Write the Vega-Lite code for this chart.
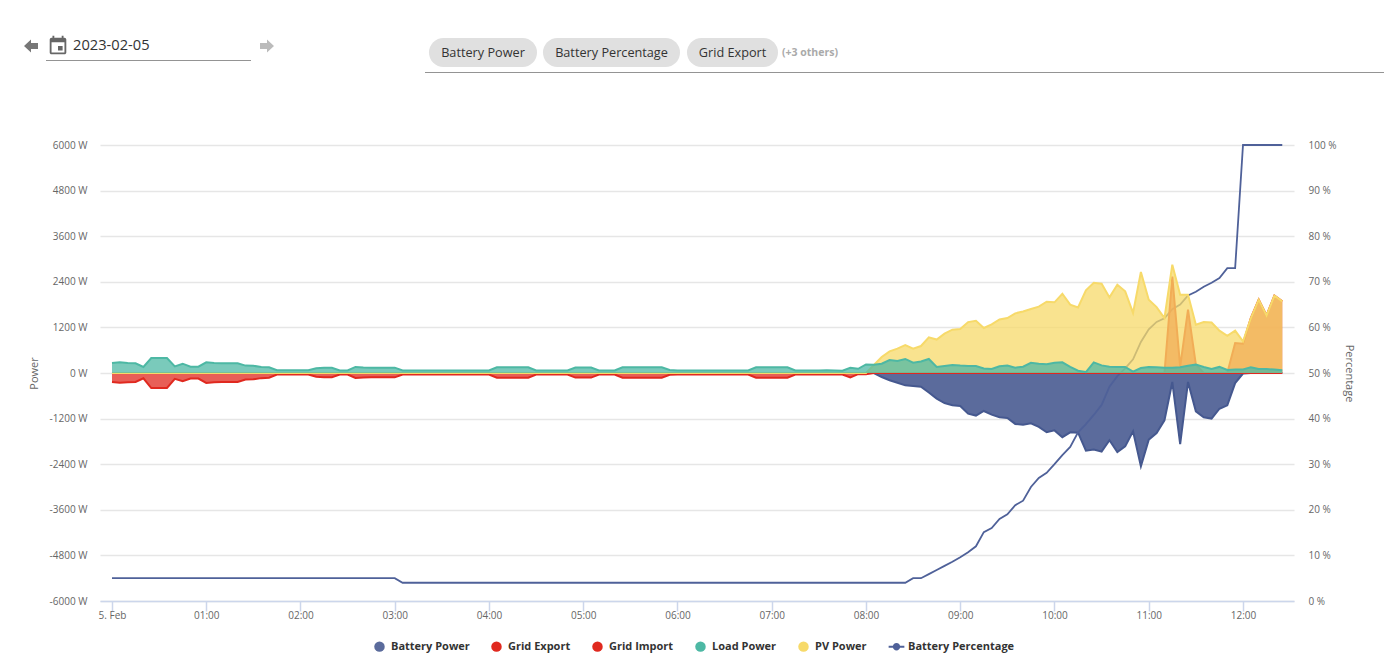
{
  "$schema": "https://vega.github.io/schema/vega-lite/v6.json",
  "width": 1194,
  "height": 456,
  "autosize": "none",
  "padding": {"left": 100, "top": 145, "right": 90, "bottom": 71},
  "background": "white",
  "config": {
    "font": "Open Sans",
    "view": {"stroke": null},
    "axis": {"labelColor": "#666666", "labelFontSize": 10, "titleColor": "#666666", "titleFontSize": 11, "titleFontWeight": "normal"}
  },
  "datasets": {
    "energy": [
      {"time":"2023-02-05T00:00","Battery Power":0,"Grid Export":0,"Grid Import":-235,"Load Power":260,"PV Power":0,"Battery Percentage":5},
      {"time":"2023-02-05T00:05","Battery Power":0,"Grid Export":0,"Grid Import":-255,"Load Power":280,"PV Power":0,"Battery Percentage":5},
      {"time":"2023-02-05T00:10","Battery Power":0,"Grid Export":0,"Grid Import":-245,"Load Power":265,"PV Power":0,"Battery Percentage":5},
      {"time":"2023-02-05T00:15","Battery Power":0,"Grid Export":0,"Grid Import":-235,"Load Power":255,"PV Power":0,"Battery Percentage":5},
      {"time":"2023-02-05T00:20","Battery Power":0,"Grid Export":0,"Grid Import":-140,"Load Power":160,"PV Power":0,"Battery Percentage":5},
      {"time":"2023-02-05T00:25","Battery Power":0,"Grid Export":0,"Grid Import":-395,"Load Power":395,"PV Power":0,"Battery Percentage":5},
      {"time":"2023-02-05T00:30","Battery Power":0,"Grid Export":0,"Grid Import":-395,"Load Power":395,"PV Power":0,"Battery Percentage":5},
      {"time":"2023-02-05T00:35","Battery Power":0,"Grid Export":0,"Grid Import":-395,"Load Power":395,"PV Power":0,"Battery Percentage":5},
      {"time":"2023-02-05T00:40","Battery Power":0,"Grid Export":0,"Grid Import":-155,"Load Power":175,"PV Power":0,"Battery Percentage":5},
      {"time":"2023-02-05T00:45","Battery Power":0,"Grid Export":0,"Grid Import":-215,"Load Power":245,"PV Power":0,"Battery Percentage":5},
      {"time":"2023-02-05T00:50","Battery Power":0,"Grid Export":0,"Grid Import":-145,"Load Power":165,"PV Power":0,"Battery Percentage":5},
      {"time":"2023-02-05T00:55","Battery Power":0,"Grid Export":0,"Grid Import":-145,"Load Power":165,"PV Power":0,"Battery Percentage":5},
      {"time":"2023-02-05T01:00","Battery Power":0,"Grid Export":0,"Grid Import":-260,"Load Power":280,"PV Power":0,"Battery Percentage":5},
      {"time":"2023-02-05T01:05","Battery Power":0,"Grid Export":0,"Grid Import":-245,"Load Power":265,"PV Power":0,"Battery Percentage":5},
      {"time":"2023-02-05T01:10","Battery Power":0,"Grid Export":0,"Grid Import":-235,"Load Power":255,"PV Power":0,"Battery Percentage":5},
      {"time":"2023-02-05T01:15","Battery Power":0,"Grid Export":0,"Grid Import":-235,"Load Power":255,"PV Power":0,"Battery Percentage":5},
      {"time":"2023-02-05T01:20","Battery Power":0,"Grid Export":0,"Grid Import":-235,"Load Power":255,"PV Power":0,"Battery Percentage":5},
      {"time":"2023-02-05T01:25","Battery Power":0,"Grid Export":0,"Grid Import":-170,"Load Power":195,"PV Power":0,"Battery Percentage":5},
      {"time":"2023-02-05T01:30","Battery Power":0,"Grid Export":0,"Grid Import":-165,"Load Power":190,"PV Power":0,"Battery Percentage":5},
      {"time":"2023-02-05T01:35","Battery Power":0,"Grid Export":0,"Grid Import":-135,"Load Power":160,"PV Power":0,"Battery Percentage":5},
      {"time":"2023-02-05T01:40","Battery Power":0,"Grid Export":0,"Grid Import":-125,"Load Power":150,"PV Power":0,"Battery Percentage":5},
      {"time":"2023-02-05T01:45","Battery Power":0,"Grid Export":0,"Grid Import":-40,"Load Power":75,"PV Power":0,"Battery Percentage":5},
      {"time":"2023-02-05T01:50","Battery Power":0,"Grid Export":0,"Grid Import":-40,"Load Power":70,"PV Power":0,"Battery Percentage":5},
      {"time":"2023-02-05T01:55","Battery Power":0,"Grid Export":0,"Grid Import":-40,"Load Power":70,"PV Power":0,"Battery Percentage":5},
      {"time":"2023-02-05T02:00","Battery Power":0,"Grid Export":0,"Grid Import":-40,"Load Power":70,"PV Power":0,"Battery Percentage":5},
      {"time":"2023-02-05T02:05","Battery Power":0,"Grid Export":0,"Grid Import":-40,"Load Power":70,"PV Power":0,"Battery Percentage":5},
      {"time":"2023-02-05T02:10","Battery Power":0,"Grid Export":0,"Grid Import":-100,"Load Power":125,"PV Power":0,"Battery Percentage":5},
      {"time":"2023-02-05T02:15","Battery Power":0,"Grid Export":0,"Grid Import":-110,"Load Power":135,"PV Power":0,"Battery Percentage":5},
      {"time":"2023-02-05T02:20","Battery Power":0,"Grid Export":0,"Grid Import":-110,"Load Power":135,"PV Power":0,"Battery Percentage":5},
      {"time":"2023-02-05T02:25","Battery Power":0,"Grid Export":0,"Grid Import":-40,"Load Power":65,"PV Power":0,"Battery Percentage":5},
      {"time":"2023-02-05T02:30","Battery Power":0,"Grid Export":0,"Grid Import":-40,"Load Power":65,"PV Power":0,"Battery Percentage":5},
      {"time":"2023-02-05T02:35","Battery Power":0,"Grid Export":0,"Grid Import":-130,"Load Power":160,"PV Power":0,"Battery Percentage":5},
      {"time":"2023-02-05T02:40","Battery Power":0,"Grid Export":0,"Grid Import":-120,"Load Power":145,"PV Power":0,"Battery Percentage":5},
      {"time":"2023-02-05T02:45","Battery Power":0,"Grid Export":0,"Grid Import":-115,"Load Power":140,"PV Power":0,"Battery Percentage":5},
      {"time":"2023-02-05T02:50","Battery Power":0,"Grid Export":0,"Grid Import":-115,"Load Power":140,"PV Power":0,"Battery Percentage":5},
      {"time":"2023-02-05T02:55","Battery Power":0,"Grid Export":0,"Grid Import":-115,"Load Power":140,"PV Power":0,"Battery Percentage":5},
      {"time":"2023-02-05T03:00","Battery Power":0,"Grid Export":0,"Grid Import":-115,"Load Power":140,"PV Power":0,"Battery Percentage":5},
      {"time":"2023-02-05T03:05","Battery Power":0,"Grid Export":0,"Grid Import":-40,"Load Power":65,"PV Power":0,"Battery Percentage":4},
      {"time":"2023-02-05T03:10","Battery Power":0,"Grid Export":0,"Grid Import":-40,"Load Power":65,"PV Power":0,"Battery Percentage":4},
      {"time":"2023-02-05T03:15","Battery Power":0,"Grid Export":0,"Grid Import":-40,"Load Power":65,"PV Power":0,"Battery Percentage":4},
      {"time":"2023-02-05T03:20","Battery Power":0,"Grid Export":0,"Grid Import":-40,"Load Power":65,"PV Power":0,"Battery Percentage":4},
      {"time":"2023-02-05T03:25","Battery Power":0,"Grid Export":0,"Grid Import":-40,"Load Power":65,"PV Power":0,"Battery Percentage":4},
      {"time":"2023-02-05T03:30","Battery Power":0,"Grid Export":0,"Grid Import":-40,"Load Power":65,"PV Power":0,"Battery Percentage":4},
      {"time":"2023-02-05T03:35","Battery Power":0,"Grid Export":0,"Grid Import":-40,"Load Power":65,"PV Power":0,"Battery Percentage":4},
      {"time":"2023-02-05T03:40","Battery Power":0,"Grid Export":0,"Grid Import":-40,"Load Power":65,"PV Power":0,"Battery Percentage":4},
      {"time":"2023-02-05T03:45","Battery Power":0,"Grid Export":0,"Grid Import":-40,"Load Power":65,"PV Power":0,"Battery Percentage":4},
      {"time":"2023-02-05T03:50","Battery Power":0,"Grid Export":0,"Grid Import":-40,"Load Power":65,"PV Power":0,"Battery Percentage":4},
      {"time":"2023-02-05T03:55","Battery Power":0,"Grid Export":0,"Grid Import":-40,"Load Power":65,"PV Power":0,"Battery Percentage":4},
      {"time":"2023-02-05T04:00","Battery Power":0,"Grid Export":0,"Grid Import":-40,"Load Power":65,"PV Power":0,"Battery Percentage":4},
      {"time":"2023-02-05T04:05","Battery Power":0,"Grid Export":0,"Grid Import":-125,"Load Power":150,"PV Power":0,"Battery Percentage":4},
      {"time":"2023-02-05T04:10","Battery Power":0,"Grid Export":0,"Grid Import":-125,"Load Power":150,"PV Power":0,"Battery Percentage":4},
      {"time":"2023-02-05T04:15","Battery Power":0,"Grid Export":0,"Grid Import":-125,"Load Power":150,"PV Power":0,"Battery Percentage":4},
      {"time":"2023-02-05T04:20","Battery Power":0,"Grid Export":0,"Grid Import":-125,"Load Power":150,"PV Power":0,"Battery Percentage":4},
      {"time":"2023-02-05T04:25","Battery Power":0,"Grid Export":0,"Grid Import":-125,"Load Power":150,"PV Power":0,"Battery Percentage":4},
      {"time":"2023-02-05T04:30","Battery Power":0,"Grid Export":0,"Grid Import":-40,"Load Power":65,"PV Power":0,"Battery Percentage":4},
      {"time":"2023-02-05T04:35","Battery Power":0,"Grid Export":0,"Grid Import":-40,"Load Power":65,"PV Power":0,"Battery Percentage":4},
      {"time":"2023-02-05T04:40","Battery Power":0,"Grid Export":0,"Grid Import":-40,"Load Power":65,"PV Power":0,"Battery Percentage":4},
      {"time":"2023-02-05T04:45","Battery Power":0,"Grid Export":0,"Grid Import":-40,"Load Power":65,"PV Power":0,"Battery Percentage":4},
      {"time":"2023-02-05T04:50","Battery Power":0,"Grid Export":0,"Grid Import":-40,"Load Power":65,"PV Power":0,"Battery Percentage":4},
      {"time":"2023-02-05T04:55","Battery Power":0,"Grid Export":0,"Grid Import":-120,"Load Power":145,"PV Power":0,"Battery Percentage":4},
      {"time":"2023-02-05T05:00","Battery Power":0,"Grid Export":0,"Grid Import":-120,"Load Power":145,"PV Power":0,"Battery Percentage":4},
      {"time":"2023-02-05T05:05","Battery Power":0,"Grid Export":0,"Grid Import":-120,"Load Power":145,"PV Power":0,"Battery Percentage":4},
      {"time":"2023-02-05T05:10","Battery Power":0,"Grid Export":0,"Grid Import":-40,"Load Power":65,"PV Power":0,"Battery Percentage":4},
      {"time":"2023-02-05T05:15","Battery Power":0,"Grid Export":0,"Grid Import":-40,"Load Power":65,"PV Power":0,"Battery Percentage":4},
      {"time":"2023-02-05T05:20","Battery Power":0,"Grid Export":0,"Grid Import":-40,"Load Power":65,"PV Power":0,"Battery Percentage":4},
      {"time":"2023-02-05T05:25","Battery Power":0,"Grid Export":0,"Grid Import":-125,"Load Power":150,"PV Power":0,"Battery Percentage":4},
      {"time":"2023-02-05T05:30","Battery Power":0,"Grid Export":0,"Grid Import":-125,"Load Power":150,"PV Power":0,"Battery Percentage":4},
      {"time":"2023-02-05T05:35","Battery Power":0,"Grid Export":0,"Grid Import":-125,"Load Power":150,"PV Power":0,"Battery Percentage":4},
      {"time":"2023-02-05T05:40","Battery Power":0,"Grid Export":0,"Grid Import":-125,"Load Power":150,"PV Power":0,"Battery Percentage":4},
      {"time":"2023-02-05T05:45","Battery Power":0,"Grid Export":0,"Grid Import":-125,"Load Power":150,"PV Power":0,"Battery Percentage":4},
      {"time":"2023-02-05T05:50","Battery Power":0,"Grid Export":0,"Grid Import":-125,"Load Power":150,"PV Power":0,"Battery Percentage":4},
      {"time":"2023-02-05T05:55","Battery Power":0,"Grid Export":0,"Grid Import":-45,"Load Power":80,"PV Power":0,"Battery Percentage":4},
      {"time":"2023-02-05T06:00","Battery Power":0,"Grid Export":0,"Grid Import":-40,"Load Power":65,"PV Power":0,"Battery Percentage":4},
      {"time":"2023-02-05T06:05","Battery Power":0,"Grid Export":0,"Grid Import":-40,"Load Power":65,"PV Power":0,"Battery Percentage":4},
      {"time":"2023-02-05T06:10","Battery Power":0,"Grid Export":0,"Grid Import":-40,"Load Power":65,"PV Power":0,"Battery Percentage":4},
      {"time":"2023-02-05T06:15","Battery Power":0,"Grid Export":0,"Grid Import":-40,"Load Power":65,"PV Power":0,"Battery Percentage":4},
      {"time":"2023-02-05T06:20","Battery Power":0,"Grid Export":0,"Grid Import":-40,"Load Power":65,"PV Power":0,"Battery Percentage":4},
      {"time":"2023-02-05T06:25","Battery Power":0,"Grid Export":0,"Grid Import":-40,"Load Power":65,"PV Power":0,"Battery Percentage":4},
      {"time":"2023-02-05T06:30","Battery Power":0,"Grid Export":0,"Grid Import":-40,"Load Power":65,"PV Power":0,"Battery Percentage":4},
      {"time":"2023-02-05T06:35","Battery Power":0,"Grid Export":0,"Grid Import":-40,"Load Power":65,"PV Power":0,"Battery Percentage":4},
      {"time":"2023-02-05T06:40","Battery Power":0,"Grid Export":0,"Grid Import":-40,"Load Power":65,"PV Power":0,"Battery Percentage":4},
      {"time":"2023-02-05T06:45","Battery Power":0,"Grid Export":0,"Grid Import":-40,"Load Power":65,"PV Power":0,"Battery Percentage":4},
      {"time":"2023-02-05T06:50","Battery Power":0,"Grid Export":0,"Grid Import":-125,"Load Power":150,"PV Power":0,"Battery Percentage":4},
      {"time":"2023-02-05T06:55","Battery Power":0,"Grid Export":0,"Grid Import":-125,"Load Power":150,"PV Power":0,"Battery Percentage":4},
      {"time":"2023-02-05T07:00","Battery Power":0,"Grid Export":0,"Grid Import":-125,"Load Power":150,"PV Power":0,"Battery Percentage":4},
      {"time":"2023-02-05T07:05","Battery Power":0,"Grid Export":0,"Grid Import":-125,"Load Power":150,"PV Power":0,"Battery Percentage":4},
      {"time":"2023-02-05T07:10","Battery Power":0,"Grid Export":0,"Grid Import":-125,"Load Power":150,"PV Power":0,"Battery Percentage":4},
      {"time":"2023-02-05T07:15","Battery Power":0,"Grid Export":0,"Grid Import":-40,"Load Power":65,"PV Power":0,"Battery Percentage":4},
      {"time":"2023-02-05T07:20","Battery Power":0,"Grid Export":0,"Grid Import":-40,"Load Power":65,"PV Power":0,"Battery Percentage":4},
      {"time":"2023-02-05T07:25","Battery Power":0,"Grid Export":0,"Grid Import":-40,"Load Power":65,"PV Power":0,"Battery Percentage":4},
      {"time":"2023-02-05T07:30","Battery Power":0,"Grid Export":0,"Grid Import":-40,"Load Power":65,"PV Power":0,"Battery Percentage":4},
      {"time":"2023-02-05T07:35","Battery Power":0,"Grid Export":0,"Grid Import":-40,"Load Power":70,"PV Power":0,"Battery Percentage":4},
      {"time":"2023-02-05T07:40","Battery Power":0,"Grid Export":0,"Grid Import":-40,"Load Power":65,"PV Power":0,"Battery Percentage":4},
      {"time":"2023-02-05T07:45","Battery Power":0,"Grid Export":0,"Grid Import":-40,"Load Power":60,"PV Power":0,"Battery Percentage":4},
      {"time":"2023-02-05T07:50","Battery Power":0,"Grid Export":0,"Grid Import":-115,"Load Power":135,"PV Power":0,"Battery Percentage":4},
      {"time":"2023-02-05T07:55","Battery Power":0,"Grid Export":0,"Grid Import":-30,"Load Power":110,"PV Power":0,"Battery Percentage":4},
      {"time":"2023-02-05T08:00","Battery Power":0,"Grid Export":0,"Grid Import":-30,"Load Power":225,"PV Power":0,"Battery Percentage":4},
      {"time":"2023-02-05T08:05","Battery Power":0,"Grid Export":0,"Grid Import":0,"Load Power":220,"PV Power":210,"Battery Percentage":4},
      {"time":"2023-02-05T08:10","Battery Power":-105,"Grid Export":0,"Grid Import":0,"Load Power":245,"PV Power":420,"Battery Percentage":4},
      {"time":"2023-02-05T08:15","Battery Power":-190,"Grid Export":0,"Grid Import":0,"Load Power":340,"PV Power":570,"Battery Percentage":4},
      {"time":"2023-02-05T08:20","Battery Power":-255,"Grid Export":0,"Grid Import":0,"Load Power":315,"PV Power":640,"Battery Percentage":4},
      {"time":"2023-02-05T08:25","Battery Power":-325,"Grid Export":0,"Grid Import":0,"Load Power":370,"PV Power":735,"Battery Percentage":4},
      {"time":"2023-02-05T08:30","Battery Power":-340,"Grid Export":0,"Grid Import":0,"Load Power":270,"PV Power":640,"Battery Percentage":5},
      {"time":"2023-02-05T08:35","Battery Power":-360,"Grid Export":0,"Grid Import":0,"Load Power":305,"PV Power":710,"Battery Percentage":5},
      {"time":"2023-02-05T08:40","Battery Power":-515,"Grid Export":0,"Grid Import":0,"Load Power":370,"PV Power":940,"Battery Percentage":5.9},
      {"time":"2023-02-05T08:45","Battery Power":-675,"Grid Export":0,"Grid Import":0,"Load Power":160,"PV Power":880,"Battery Percentage":6.8},
      {"time":"2023-02-05T08:50","Battery Power":-790,"Grid Export":0,"Grid Import":0,"Load Power":185,"PV Power":1035,"Battery Percentage":7.7},
      {"time":"2023-02-05T08:55","Battery Power":-850,"Grid Export":0,"Grid Import":0,"Load Power":210,"PV Power":1140,"Battery Percentage":8.6},
      {"time":"2023-02-05T09:00","Battery Power":-870,"Grid Export":0,"Grid Import":0,"Load Power":195,"PV Power":1160,"Battery Percentage":9.6},
      {"time":"2023-02-05T09:05","Battery Power":-1070,"Grid Export":0,"Grid Import":0,"Load Power":185,"PV Power":1340,"Battery Percentage":10.7},
      {"time":"2023-02-05T09:10","Battery Power":-1120,"Grid Export":0,"Grid Import":0,"Load Power":185,"PV Power":1375,"Battery Percentage":12},
      {"time":"2023-02-05T09:15","Battery Power":-1000,"Grid Export":0,"Grid Import":0,"Load Power":120,"PV Power":1185,"Battery Percentage":15.1},
      {"time":"2023-02-05T09:20","Battery Power":-1095,"Grid Export":0,"Grid Import":0,"Load Power":105,"PV Power":1280,"Battery Percentage":16},
      {"time":"2023-02-05T09:25","Battery Power":-1165,"Grid Export":0,"Grid Import":0,"Load Power":175,"PV Power":1410,"Battery Percentage":18},
      {"time":"2023-02-05T09:30","Battery Power":-1185,"Grid Export":0,"Grid Import":0,"Load Power":195,"PV Power":1445,"Battery Percentage":19},
      {"time":"2023-02-05T09:35","Battery Power":-1340,"Grid Export":0,"Grid Import":0,"Load Power":140,"PV Power":1570,"Battery Percentage":21},
      {"time":"2023-02-05T09:40","Battery Power":-1360,"Grid Export":0,"Grid Import":0,"Load Power":165,"PV Power":1620,"Battery Percentage":22},
      {"time":"2023-02-05T09:45","Battery Power":-1325,"Grid Export":0,"Grid Import":0,"Load Power":270,"PV Power":1685,"Battery Percentage":25},
      {"time":"2023-02-05T09:50","Battery Power":-1420,"Grid Export":0,"Grid Import":0,"Load Power":245,"PV Power":1745,"Battery Percentage":27},
      {"time":"2023-02-05T09:55","Battery Power":-1560,"Grid Export":0,"Grid Import":0,"Load Power":230,"PV Power":1875,"Battery Percentage":28.1},
      {"time":"2023-02-05T10:00","Battery Power":-1510,"Grid Export":0,"Grid Import":0,"Load Power":270,"PV Power":1860,"Battery Percentage":30},
      {"time":"2023-02-05T10:05","Battery Power":-1690,"Grid Export":0,"Grid Import":0,"Load Power":280,"PV Power":2085,"Battery Percentage":32},
      {"time":"2023-02-05T10:10","Battery Power":-1560,"Grid Export":0,"Grid Import":0,"Load Power":160,"PV Power":1800,"Battery Percentage":33.8},
      {"time":"2023-02-05T10:15","Battery Power":-1570,"Grid Export":0,"Grid Import":0,"Load Power":60,"PV Power":1725,"Battery Percentage":37},
      {"time":"2023-02-05T10:20","Battery Power":-2045,"Grid Export":0,"Grid Import":0,"Load Power":25,"PV Power":2175,"Battery Percentage":38.8},
      {"time":"2023-02-05T10:25","Battery Power":-2015,"Grid Export":0,"Grid Import":0,"Load Power":280,"PV Power":2375,"Battery Percentage":40.8},
      {"time":"2023-02-05T10:30","Battery Power":-2070,"Grid Export":0,"Grid Import":0,"Load Power":200,"PV Power":2350,"Battery Percentage":43},
      {"time":"2023-02-05T10:35","Battery Power":-1770,"Grid Export":0,"Grid Import":0,"Load Power":165,"PV Power":1990,"Battery Percentage":47},
      {"time":"2023-02-05T10:40","Battery Power":-2080,"Grid Export":0,"Grid Import":0,"Load Power":160,"PV Power":2325,"Battery Percentage":49.3},
      {"time":"2023-02-05T10:45","Battery Power":-1930,"Grid Export":0,"Grid Import":0,"Load Power":160,"PV Power":2150,"Battery Percentage":51},
      {"time":"2023-02-05T10:50","Battery Power":-1535,"Grid Export":0,"Grid Import":0,"Load Power":35,"PV Power":1580,"Battery Percentage":53},
      {"time":"2023-02-05T10:55","Battery Power":-2455,"Grid Export":0,"Grid Import":0,"Load Power":130,"PV Power":2660,"Battery Percentage":56.8},
      {"time":"2023-02-05T11:00","Battery Power":-1755,"Grid Export":0,"Grid Import":0,"Load Power":160,"PV Power":1930,"Battery Percentage":59.6},
      {"time":"2023-02-05T11:05","Battery Power":-1580,"Grid Export":0,"Grid Import":0,"Load Power":150,"PV Power":1735,"Battery Percentage":61.2},
      {"time":"2023-02-05T11:10","Battery Power":-1245,"Grid Export":0,"Grid Import":0,"Load Power":140,"PV Power":1445,"Battery Percentage":62},
      {"time":"2023-02-05T11:15","Battery Power":-235,"Grid Export":2540,"Grid Import":0,"Load Power":140,"PV Power":2850,"Battery Percentage":64},
      {"time":"2023-02-05T11:20","Battery Power":-1870,"Grid Export":170,"Grid Import":0,"Load Power":150,"PV Power":2060,"Battery Percentage":65},
      {"time":"2023-02-05T11:25","Battery Power":-235,"Grid Export":1665,"Grid Import":0,"Load Power":190,"PV Power":2060,"Battery Percentage":67},
      {"time":"2023-02-05T11:30","Battery Power":-1010,"Grid Export":220,"Grid Import":0,"Load Power":220,"PV Power":1270,"Battery Percentage":67.8},
      {"time":"2023-02-05T11:35","Battery Power":-1165,"Grid Export":0,"Grid Import":0,"Load Power":160,"PV Power":1340,"Battery Percentage":68.9},
      {"time":"2023-02-05T11:40","Battery Power":-1200,"Grid Export":0,"Grid Import":0,"Load Power":105,"PV Power":1330,"Battery Percentage":69.8},
      {"time":"2023-02-05T11:45","Battery Power":-940,"Grid Export":0,"Grid Import":0,"Load Power":160,"PV Power":1115,"Battery Percentage":70.8},
      {"time":"2023-02-05T11:50","Battery Power":-850,"Grid Export":0,"Grid Import":0,"Load Power":80,"PV Power":980,"Battery Percentage":73},
      {"time":"2023-02-05T11:55","Battery Power":-265,"Grid Export":790,"Grid Import":0,"Load Power":90,"PV Power":1115,"Battery Percentage":73},
      {"time":"2023-02-05T12:00","Battery Power":-15,"Grid Export":770,"Grid Import":0,"Load Power":95,"PV Power":830,"Battery Percentage":100},
      {"time":"2023-02-05T12:05","Battery Power":0,"Grid Export":1445,"Grid Import":0,"Load Power":150,"PV Power":1445,"Battery Percentage":100},
      {"time":"2023-02-05T12:10","Battery Power":0,"Grid Export":1930,"Grid Import":0,"Load Power":105,"PV Power":1930,"Battery Percentage":100},
      {"time":"2023-02-05T12:15","Battery Power":0,"Grid Export":1515,"Grid Import":0,"Load Power":105,"PV Power":1515,"Battery Percentage":100},
      {"time":"2023-02-05T12:20","Battery Power":0,"Grid Export":2035,"Grid Import":0,"Load Power":90,"PV Power":2035,"Battery Percentage":100},
      {"time":"2023-02-05T12:25","Battery Power":0,"Grid Export":1885,"Grid Import":0,"Load Power":70,"PV Power":1885,"Battery Percentage":100}
    ]
  },
  "layer": [
    {
      "layer": [
        {
          "data": {"name": "energy"},
          "mark": {"type": "area", "fillOpacity": 1, "line": {"stroke": "#45588f", "strokeWidth": 2}},
          "encoding": {
            "x": {
              "field": "time", "type": "temporal",
              "scale": {"domain": ["2023-02-04T23:52:22", "2023-02-05T12:32:28"], "nice": false},
              "axis": {
                "title": null, "grid": false,
                "tickCount": 13,
                "labelExpr": "hours(datum.value) === 0 ? '5. Feb' : timeFormat(datum.value, '%H:%M')",
                "domainColor": "#ccd6eb", "domainWidth": 1.5, "tickColor": "#ccd6eb", "tickWidth": 1.5, "tickSize": 10,
                "labelPadding": -1
              }
            },
            "y": {
              "field": "Battery Power", "type": "quantitative",
              "scale": {"domain": [-6000, 6000], "nice": false},
              "axis": {
                "title": "Power",
                "values": [-6000, -4800, -3600, -2400, -1200, 0, 1200, 2400, 3600, 4800, 6000],
                "labelExpr": "datum.value + ' W'",
                "domain": false, "ticks": false, "labelPadding": 13, "titlePadding": 10,
                "grid": true, "gridColor": "#e6e6e6", "gridWidth": 1.5
              }
            },
            "color": {
              "datum": "Battery Power",
              "scale": {
                "domain": ["Battery Power", "Grid Export", "Grid Import", "Load Power", "PV Power", "Battery Percentage"],
                "range": ["#5b6b9c", "#e0291f", "#e0291f", "#4db8a4", "#f7da6a", "#4f6199"]
              },
              "legend": {
                "title": null, "orient": "none", "legendX": 274, "legendY": 496,
                "direction": "horizontal", "columns": 6, "columnPadding": 21,
                "labelFont": "Open Sans", "labelFontSize": 11, "labelFontWeight": "bold", "labelColor": "#333333", "labelOffset": 6,
                "symbolSize": 110, "symbolStrokeWidth": 0, "symbolOpacity": 1,
                "encode": {
                  "symbols": {
                    "update": {
                      "shape": {"signal": "datum.value === 'Battery Percentage' ? 'M-1.5,-0.2H1.5V0.2H-1.5Z M0.7,0A0.7,0.7,0,1,1,-0.7,0A0.7,0.7,0,1,1,0.7,0Z' : 'circle'"},
                      "fill": {"scale": "color", "field": "value"},
                      "fillOpacity": {"value": 1}
                    }
                  }
                }
              }
            }
          }
        },
        {
          "data": {"name": "energy"},
          "mark": {"type": "line", "strokeWidth": 1.8},
          "encoding": {
            "x": {"field": "time", "type": "temporal"},
            "y": {
              "field": "Battery Percentage", "type": "quantitative",
              "scale": {"domain": [0, 100], "nice": false},
              "axis": {
                "orient": "right", "title": "Percentage", "titleAngle": 90,
                "values": [0, 10, 20, 30, 40, 50, 60, 70, 80, 90, 100],
                "labelExpr": "datum.value + ' %'",
                "domain": false, "ticks": false, "grid": false, "labelPadding": 14, "titlePadding": 7
              }
            },
            "color": {"datum": "Battery Percentage"}
          }
        },
        {
          "data": {"name": "energy"},
          "mark": {"type": "area", "fillOpacity": 0.75, "line": {"strokeWidth": 2}},
          "encoding": {
            "x": {"field": "time", "type": "temporal"},
            "y": {"field": "Grid Export", "type": "quantitative", "stack": null, "scale": {"domain": [-6000, 6000], "nice": false}, "axis": null},
            "color": {"datum": "Grid Export"}
          }
        },
        {
          "data": {"name": "energy"},
          "mark": {"type": "area", "fillOpacity": 0.75, "line": {"strokeWidth": 2}},
          "encoding": {
            "x": {"field": "time", "type": "temporal"},
            "y": {"field": "Grid Import", "type": "quantitative", "stack": null, "scale": {"domain": [-6000, 6000], "nice": false}, "axis": null},
            "color": {"datum": "Grid Import"}
          }
        },
        {
          "data": {"name": "energy"},
          "mark": {"type": "area", "fillOpacity": 0.75, "line": {"strokeWidth": 2}},
          "encoding": {
            "x": {"field": "time", "type": "temporal"},
            "y": {"field": "PV Power", "type": "quantitative", "stack": null, "scale": {"domain": [-6000, 6000], "nice": false}, "axis": null},
            "color": {"datum": "PV Power"}
          }
        },
        {
          "data": {"name": "energy"},
          "mark": {"type": "area", "fillOpacity": 0.75, "line": {"strokeWidth": 2}},
          "encoding": {
            "x": {"field": "time", "type": "temporal"},
            "y": {"field": "Load Power", "type": "quantitative", "stack": null, "scale": {"domain": [-6000, 6000], "nice": false}, "axis": null},
            "color": {"datum": "Load Power"}
          }
        }
      ],
      "resolve": {"scale": {"y": "independent"}}
    },
    {
      "data": {"values": [
        {"control": "Battery Power", "from": 7, "to": 9, "center": 8, "row": 1},
        {"control": "Battery Percentage", "from": 10, "to": 12, "center": 11, "row": 1},
        {"control": "Grid Export", "from": 13, "to": 15, "center": 14, "row": 1},
        {"control": "date underline", "from": 1, "to": 4, "center": 3, "row": 2},
        {"control": "filter underline", "from": 6, "to": 17, "center": 11, "row": 3},
        {"control": "2023-02-05", "from": 3, "to": 3, "center": 3, "row": 0},
        {"control": "(+3 others)", "from": 16, "to": 16, "center": 16, "row": 1},
        {"control": "previous", "from": 0, "to": 0, "center": 0, "row": 0},
        {"control": "calendar", "from": 2, "to": 2, "center": 2, "row": 0},
        {"control": "next", "from": 5, "to": 5, "center": 5, "row": 0}
      ]},
      "encoding": {
        "x": {
          "field": "center", "type": "quantitative", "axis": null,
          "scale": {
            "domain": [0, 1, 2, 3, 4, 5, 6, 7, 8, 9, 10, 11, 12, 13, 14, 15, 16, 17],
            "range": [-69, -54, -42, -27, 151, 167, 325, 343.5, 383, 422.5, 457.5, 511.5, 565.5, 601.5, 632.5, 663.5, 682, 1284],
            "zero": false, "nice": false
          }
        },
        "y": {
          "field": "row", "type": "quantitative", "axis": null,
          "scale": {"domain": [0, 1, 2, 3], "range": [-99, -92.5, -84.5, -72.5], "zero": false, "nice": false}
        }
      },
      "layer": [
        {
          "transform": [{"filter": "datum.row === 1 && datum.from !== datum.to"}],
          "mark": {"type": "rule", "stroke": "#e0e0e0", "strokeWidth": 29, "strokeCap": "round"},
          "encoding": {"x": {"field": "from", "type": "quantitative", "axis": null}, "x2": {"field": "to"}}
        },
        {
          "transform": [{"filter": "datum.row >= 2"}],
          "mark": {"type": "rule", "stroke": "#949494", "strokeWidth": 1},
          "encoding": {"x": {"field": "from", "type": "quantitative", "axis": null}, "x2": {"field": "to"}}
        },
        {
          "transform": [{"filter": "datum.row === 1 && datum.from !== datum.to"}],
          "mark": {"type": "text", "font": "Open Sans", "fontSize": 12.7, "color": "#333333", "align": "center", "baseline": "middle"},
          "encoding": {"text": {"field": "control"}}
        },
        {
          "transform": [{"filter": "datum.control === '2023-02-05'"}],
          "mark": {"type": "text", "font": "Open Sans", "fontSize": 14.7, "color": "#333333", "align": "left", "baseline": "middle"},
          "encoding": {"text": {"field": "control"}}
        },
        {
          "transform": [{"filter": "datum.control === '(+3 others)'"}],
          "mark": {"type": "text", "font": "Open Sans", "fontSize": 10.5, "fontWeight": "bold", "color": "#aaaaaa", "align": "left", "baseline": "middle"},
          "encoding": {"text": {"field": "control"}}
        },
        {
          "transform": [{"filter": "datum.control === 'previous'"}],
          "mark": {"type": "point", "filled": true, "opacity": 1, "size": 4, "color": "#777777", "shape": "M-7,0L0,-6.5V-3H7V3H0V6.5Z"}
        },
        {
          "transform": [{"filter": "datum.control === 'next'"}],
          "mark": {"type": "point", "filled": true, "opacity": 1, "size": 4, "color": "#bbbbbb", "shape": "M7,0L0,-6.5V-3H-7V3H0V6.5Z"}
        },
        {
          "transform": [{"filter": "datum.control === 'calendar'"}],
          "mark": {"type": "point", "filled": true, "opacity": 1, "size": 3.4, "color": "#666666", "shape": "M5 0h-5v5h5v-5zM4 -11v2H-4v-2H-6v2H-7c-1.11 0-1.99 .9-1.99 2L-9 7c0 1.1 .89 2 2 2h14c1.1 0 2-.9 2-2V-7c0-1.1-.9-2-2-2h-1v-2h-2zm3 18H-7V-4h14v11z"}
        }
      ]
    }
  ],
  "resolve": {"scale": {"x": "independent", "y": "independent"}}
}
